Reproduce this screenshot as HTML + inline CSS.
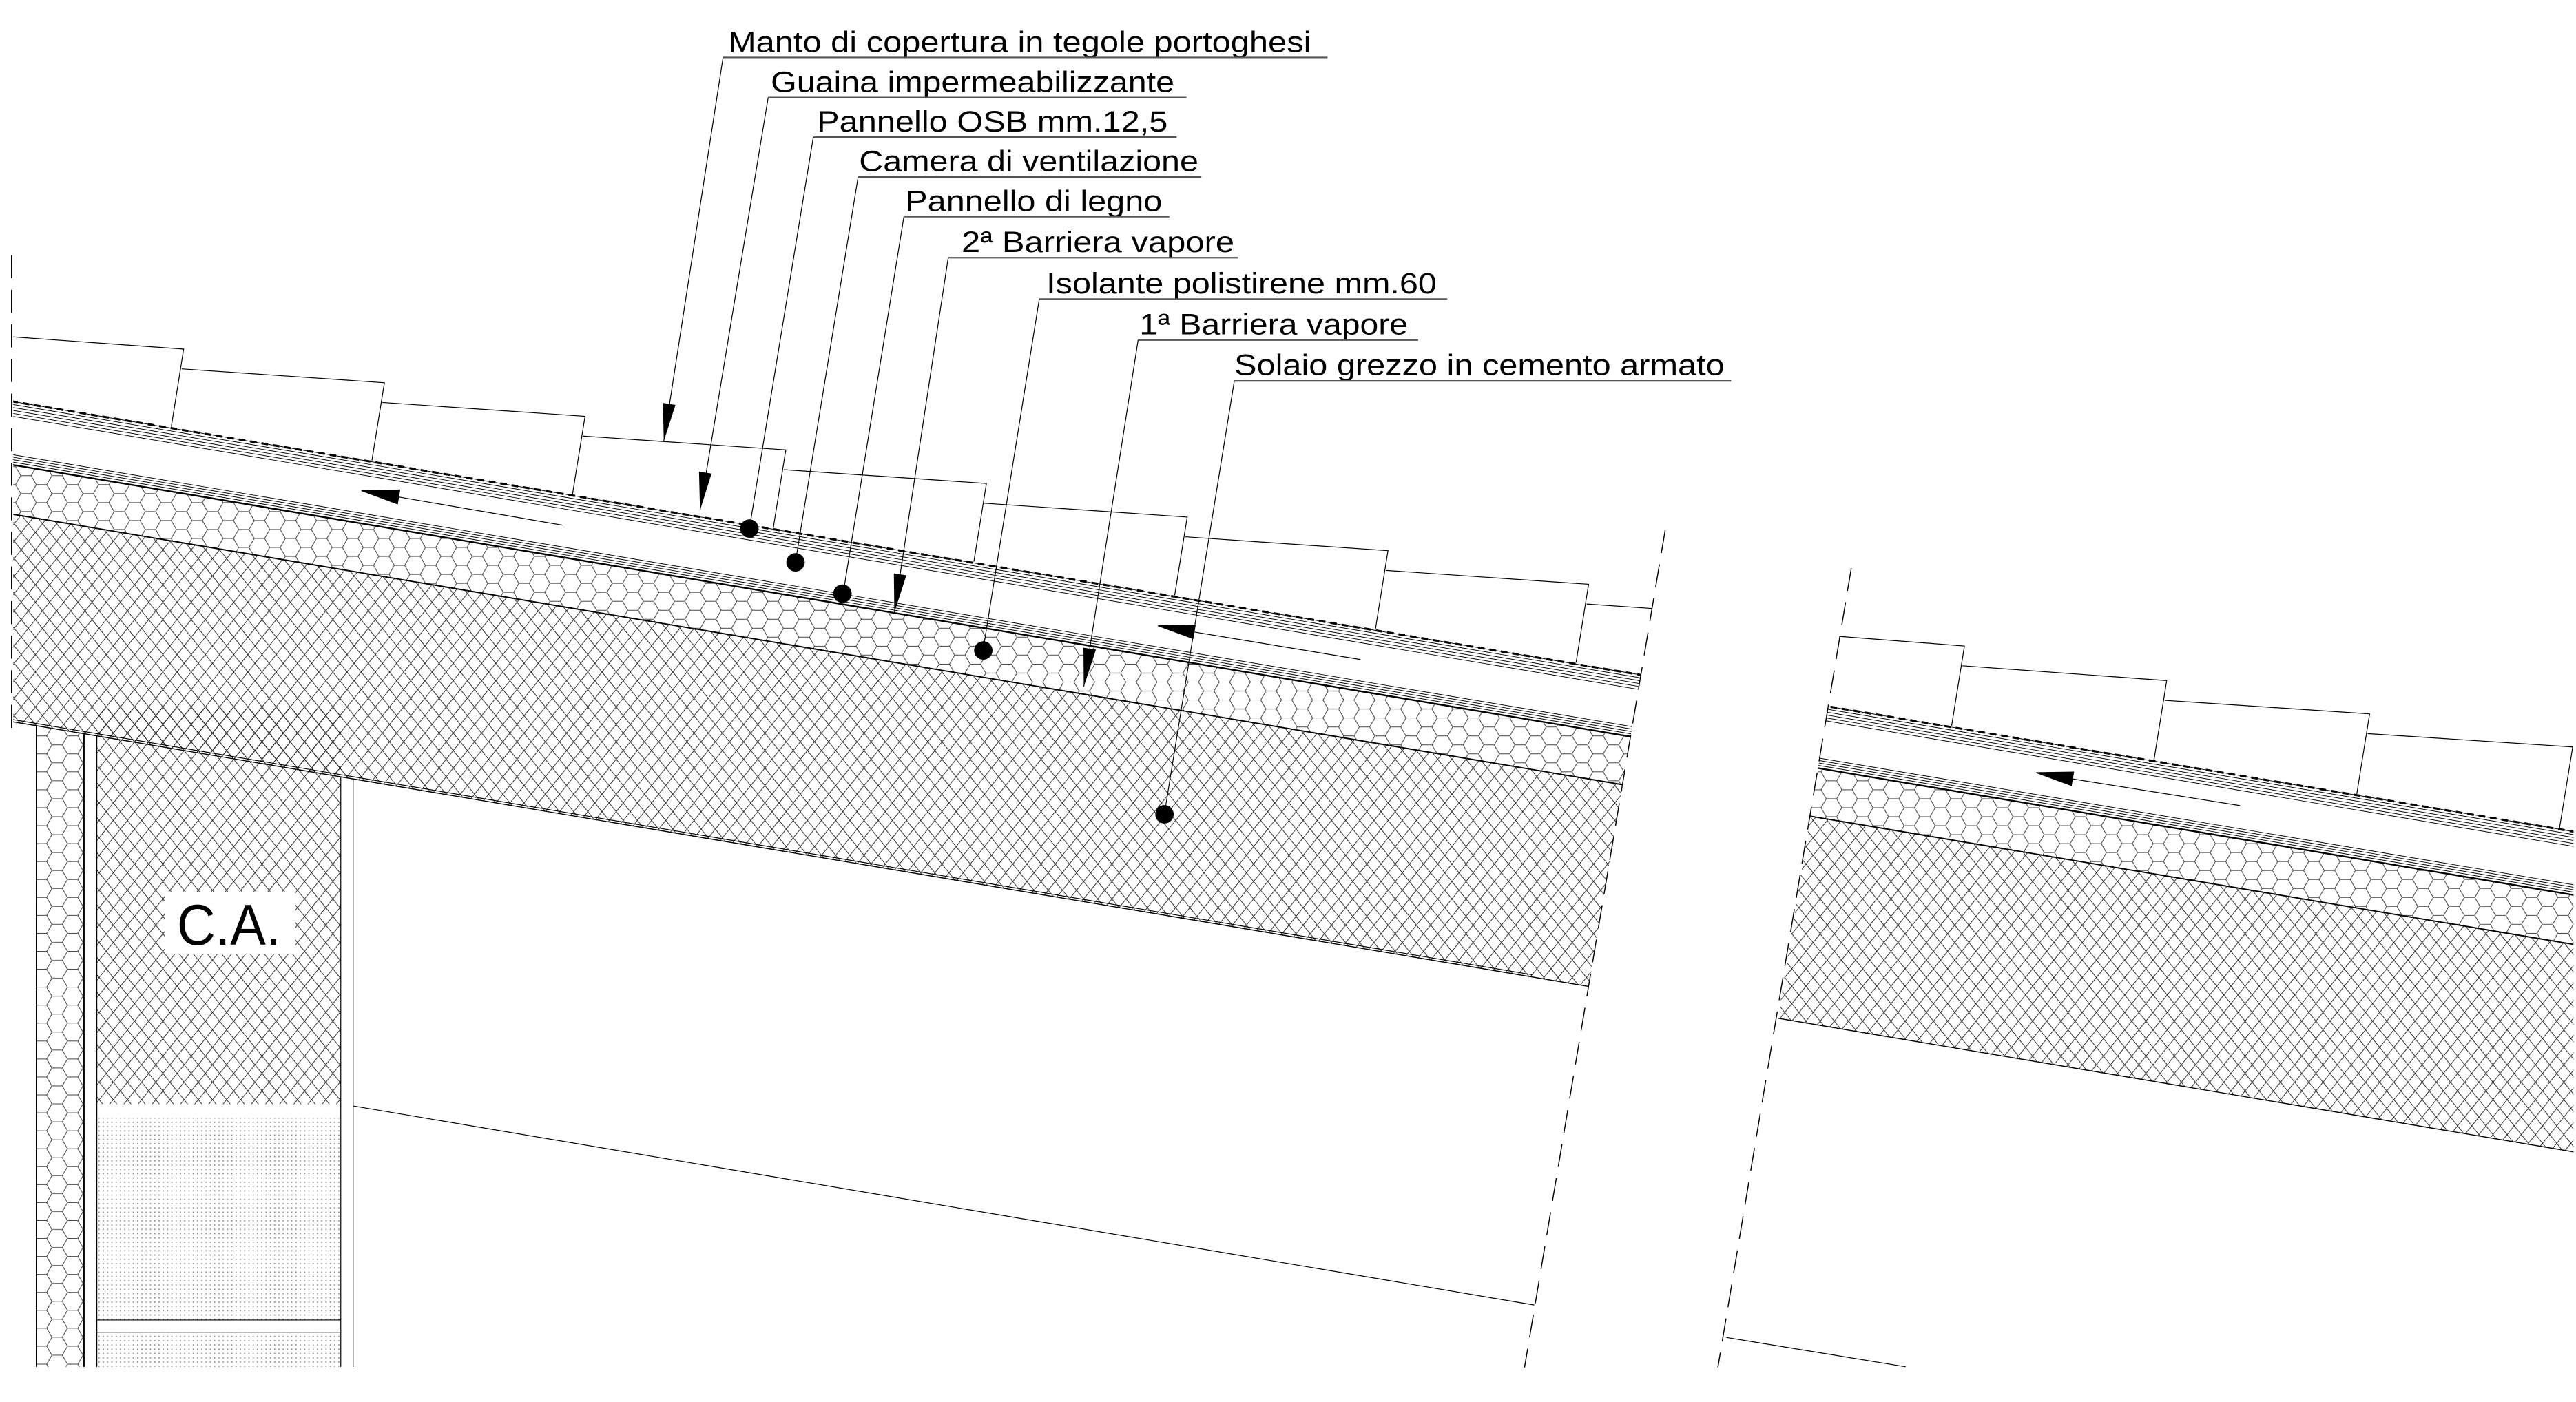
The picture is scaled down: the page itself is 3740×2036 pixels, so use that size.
<!DOCTYPE html>
<html><head><meta charset="utf-8"><style>
html,body{margin:0;padding:0;background:#fff;}
svg{display:block;}
text{font-family:"Liberation Sans",Arial,sans-serif;fill:#000;}
</style></head><body>
<svg width="3740" height="2036" viewBox="0 0 1564 851.4" preserveAspectRatio="none" xmlns="http://www.w3.org/2000/svg">
<defs>
<pattern id="hex" patternUnits="userSpaceOnUse" width="18.9" height="10.9">
<path d="M0,5.45 L3.15,0 L9.45,0 L12.6,5.45 L9.45,10.9 L3.15,10.9 Z M12.6,5.45 L18.9,5.45" fill="none" stroke="#444" stroke-width="0.45"/>
</pattern>
<pattern id="xh" patternUnits="userSpaceOnUse" width="8.6" height="10.6">
<path d="M0,0 L8.6,10.6 M8.6,0 L0,10.6" fill="none" stroke="#222" stroke-width="0.4"/>
</pattern>
<pattern id="dot" patternUnits="userSpaceOnUse" width="2.6" height="2.6">
<rect x="0" y="0" width="0.7" height="0.7" fill="#888"/>
</pattern>
<clipPath id="cl"><polygon points="8,0 1065.2,0 922.1,851.4 8,851.4"/></clipPath>
<clipPath id="cr"><polygon points="1178.9,0 1562.5,0 1562.5,851.4 1041.9,851.4"/></clipPath>
<g id="layers">
  <!-- concrete -->
  <polygon points="0,311 1600,579.8 1600,705.8 0,437" fill="url(#xh)"/>
  <!-- hex insulation -->
  <polygon points="0,281 1600,549.8 1600,579.8 0,311" fill="url(#hex)"/>
  <g fill="none" stroke="#000">
    <line x1="0" y1="242.5" x2="1600" y2="511.3" stroke-width="1.3" stroke-dasharray="4 3"/>
    <line x1="0" y1="242.5" x2="1600" y2="511.3" stroke-width="0.4"/>
    <line x1="0" y1="244.3" x2="1600" y2="513.1" stroke-width="0.4"/>
    <line x1="0" y1="246.1" x2="1600" y2="514.9" stroke-width="0.4"/>
    <line x1="0" y1="247.9" x2="1600" y2="516.7" stroke-width="0.4"/>
    <line x1="0" y1="249.7" x2="1600" y2="518.5" stroke-width="0.4"/>
    <line x1="0" y1="251.5" x2="1600" y2="520.3" stroke-width="0.4"/>
    <line x1="0" y1="274.8" x2="1600" y2="543.6" stroke-width="0.4"/>
    <line x1="0" y1="276.3" x2="1600" y2="545.1" stroke-width="0.4"/>
    <line x1="0" y1="277.8" x2="1600" y2="546.6" stroke-width="0.4"/>
    <line x1="0" y1="279.3" x2="1600" y2="548.1" stroke-width="0.4"/>
    <line x1="0" y1="281" x2="1600" y2="549.8" stroke-width="1"/>
    <line x1="0" y1="311" x2="1600" y2="579.8" stroke-width="0.8"/>
    <line x1="0" y1="437" x2="1600" y2="705.8" stroke-width="0.6"/>
  </g>
</g>
</defs>

<!-- LEFT SECTION -->
<g clip-path="url(#cl)">
  <use href="#layers"/>
  <g fill="none" stroke="#000" stroke-width="0.5">
    <polyline points="8,204.6 111.5,212 104,259.1"/>
    <polyline points="110.3,224 233.4,232.4 225.8,279.6"/>
    <polyline points="232.2,244.4 355.2,252.8 347.6,300.1"/>
    <polyline points="354,264.8 477.1,273.2 469.5,320.6"/>
    <polyline points="475.9,285.2 598.9,293.6 591.3,341"/>
    <polyline points="597.7,305.6 720.8,314 713.2,361.5"/>
    <polyline points="719.6,326 842.7,334.4 835.1,382"/>
    <polyline points="841.5,346.4 964.5,354.8 956.9,402.4"/>
    <polyline points="963.3,366.8 1086,375.2"/>
  </g>
</g>

<!-- RIGHT SECTION -->
<g clip-path="url(#cr)">
  <use href="#layers"/>
  <g fill="none" stroke="#000" stroke-width="0.5">
    <polyline points="1080,383.6 1192.7,392.3 1184.9,440.8"/>
    <polyline points="1191.5,404.3 1315.5,413.3 1307.8,461.4"/>
    <polyline points="1314.3,425.3 1438.7,433.5 1430.9,482.1"/>
    <polyline points="1437.5,445.5 1562,453.6 1554,502.8"/>
  </g>
  <line x1="1047" y1="812" x2="1157" y2="830" stroke="#000" stroke-width="0.5"/>
</g>

<!-- column / wall -->
<polygon points="22,440.7 51,445.5 51,830 22,830" fill="url(#hex)"/>
<rect x="58.8" y="430" width="148.1" height="240.5" fill="url(#xh)"/>
<polygon points="8,437 58.8,445.5 206.9,470.3 214.4,471.6 214.4,480 8,480" fill="url(#xh)" clip-path="url(#cl)" opacity="0"/>
<rect x="58.8" y="679" width="148.1" height="122.6" fill="url(#dot)"/>
<rect x="58.8" y="809" width="148.1" height="21" fill="url(#dot)"/>
<g fill="none" stroke="#000" stroke-width="0.5">
  <line x1="8" y1="437" x2="930" y2="591.9"/>
  <line x1="22" y1="440.7" x2="22" y2="830"/>
  <line x1="51" y1="445.5" x2="51" y2="830" stroke-width="0.8"/>
  <line x1="58.8" y1="446.8" x2="58.8" y2="830"/>
  <line x1="206.9" y1="471.6" x2="206.9" y2="830"/>
  <line x1="214.4" y1="472.9" x2="214.4" y2="830"/>
  <line x1="58.8" y1="801.6" x2="206.9" y2="801.6"/>
  <line x1="58.8" y1="809" x2="206.9" y2="809"/>
  <line x1="214.4" y1="671.6" x2="931.5" y2="792.5"/>
</g>
<rect x="100" y="541.7" width="79.2" height="37.6" fill="#fff"/>
<text x="107.4" y="573.8" font-size="35" textLength="63" lengthAdjust="spacingAndGlyphs">C.A.</text>

<!-- break lines -->
<g fill="none" stroke="#000" stroke-width="0.6" stroke-dasharray="14 7">
  <line x1="7" y1="155" x2="7" y2="445"/>
  <line x1="1011" y1="322" x2="925.6" y2="830.4"/>
  <line x1="1124" y1="345" x2="1043" y2="830.4"/>
</g>

<!-- ventilation arrows -->
<g fill="#000" stroke="#000" stroke-width="0.5">
  <polygon points="219.5,298 242,301.8 241.3,306 242.7,297.5"/>
  <polygon points="219.5,298 242.7,297.5 241.3,306"/>
  <line x1="242" y1="301.8" x2="342" y2="319"/>
  <polygon points="703,380 725.7,379.6 724.3,387.8"/>
  <line x1="725" y1="383.8" x2="826" y2="400.5"/>
  <polygon points="1236.3,469.2 1259,468.8 1257.6,477"/>
  <line x1="1258.3" y1="473" x2="1360" y2="489.2"/>
</g>

<!-- labels -->
<g font-size="18" >
  <text x="442" y="31.5" textLength="354" lengthAdjust="spacingAndGlyphs">Manto di copertura in tegole portoghesi</text>
  <text x="468" y="55.8" textLength="245" lengthAdjust="spacingAndGlyphs">Guaina impermeabilizzante</text>
  <text x="496" y="79.8" textLength="213" lengthAdjust="spacingAndGlyphs">Pannello OSB mm.12,5</text>
  <text x="521.6" y="104" textLength="206" lengthAdjust="spacingAndGlyphs">Camera di ventilazione</text>
  <text x="549.6" y="128.2" textLength="156" lengthAdjust="spacingAndGlyphs">Pannello di legno</text>
  <text x="583.8" y="153" textLength="165.6" lengthAdjust="spacingAndGlyphs">2ª Barriera vapore</text>
  <text x="635.3" y="178.2" textLength="237" lengthAdjust="spacingAndGlyphs">Isolante polistirene mm.60</text>
  <text x="691.8" y="203" textLength="163" lengthAdjust="spacingAndGlyphs">1ª Barriera vapore</text>
  <text x="749.4" y="227.8" textLength="297.6" lengthAdjust="spacingAndGlyphs">Solaio grezzo in cemento armato</text>
</g>
<g fill="none" stroke="#555" stroke-width="0.9">
  <line x1="439" y1="34.9" x2="806" y2="34.9"/>
  <line x1="466.4" y1="59.2" x2="720.4" y2="59.2"/>
  <line x1="493.8" y1="83.2" x2="714.4" y2="83.2"/>
  <line x1="521" y1="107.5" x2="729.4" y2="107.5"/>
  <line x1="548.8" y1="131.6" x2="710" y2="131.6"/>
  <line x1="575.7" y1="156.5" x2="751.6" y2="156.5"/>
  <line x1="631" y1="181.6" x2="878.7" y2="181.6"/>
  <line x1="691" y1="206.5" x2="861" y2="206.5"/>
  <line x1="749.4" y1="231.3" x2="1051" y2="231.3"/>
</g>
<g fill="none" stroke="#000" stroke-width="0.5">
  <line x1="439" y1="34.9" x2="403" y2="268"/>
  <line x1="466.4" y1="59.2" x2="425" y2="310"/>
  <line x1="493.8" y1="83.2" x2="455" y2="321"/>
  <line x1="521" y1="107.5" x2="483" y2="341"/>
  <line x1="548.8" y1="131.6" x2="512" y2="360"/>
  <line x1="575.7" y1="156.5" x2="543" y2="372"/>
  <line x1="631" y1="181.6" x2="597" y2="394"/>
  <line x1="691" y1="206.5" x2="658" y2="417"/>
  <line x1="749.4" y1="231.3" x2="707" y2="494"/>
</g>
<g fill="#000">
  <polygon points="403,268 410.1,245.9 402.5,244.7"/>
  <polygon points="425,310 432,287.6 424.4,286.4"/>
  <polygon points="543,372 550.3,349.4 542.7,348.2"/>
  <polygon points="658,417 665.4,394.5 657.8,393.3"/>
  <circle cx="455" cy="321" r="5.6"/>
  <circle cx="483" cy="341.5" r="5.6"/>
  <circle cx="511.5" cy="360.5" r="5.6"/>
  <circle cx="597" cy="395" r="5.6"/>
  <circle cx="707" cy="494.5" r="5.6"/>
</g>
</svg>
</body></html>
